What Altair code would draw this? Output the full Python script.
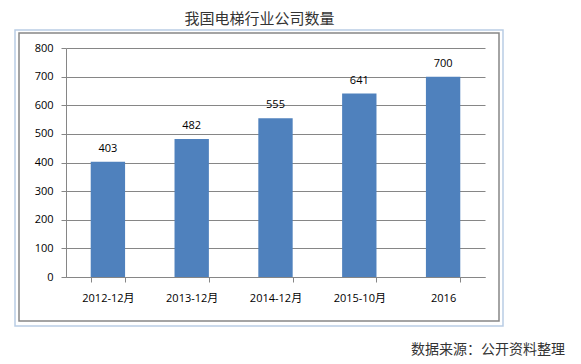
import altair as alt
import pandas as pd

categories = ["2012-12月", "2013-12月", "2014-12月", "2015-10月", "2016"]
values = [403, 482, 555, 641, 700]
y_ticks = [0, 100, 200, 300, 400, 500, 600, 700, 800]
title_text = "我国电梯行业公司数量"
source_text = "数据来源：公开资料整理"

df = pd.DataFrame({"cat": categories, "val": values})
one = pd.DataFrame({"k": [0]})

FONT = "Open Sans, Noto Sans CJK SC, sans-serif"
CJK = "Noto Sans CJK SC, sans-serif"

x_enc = alt.X(
    "cat:N",
    sort=categories,
    title=None,
    scale=alt.Scale(paddingInner=0.59, paddingOuter=0.295),
    axis=alt.Axis(
        labelAngle=0,
        tickBand="extent",
        tickSize=5,
        labelPadding=10,
        domainColor="#868686",
        tickColor="#868686",
        labelColor="#000000",
        labelFont=FONT,
        labelFontSize=11,
        labelOverlap=False,
        grid=False,
    ),
)
y_enc = alt.Y(
    "val:Q",
    title=None,
    scale=alt.Scale(domain=[0, 800], nice=False),
    axis=alt.Axis(
        values=y_ticks,
        tickSize=5,
        labelPadding=8,
        labelOverlap=False,
        domainColor="#868686",
        tickColor="#868686",
        gridColor="#868686",
        labelColor="#000000",
        labelFont=FONT,
        labelFontSize=11,
    ),
)

outer = alt.Chart(one).mark_rect(fill="transparent", stroke="#B9CDE5", strokeWidth=1.5).encode(
    x=alt.value(-51), x2=alt.value(437), y=alt.value(-18), y2=alt.value(278)
)
inner = alt.Chart(one).mark_rect(fill="transparent", stroke="#868686", strokeWidth=1.5).encode(
    x=alt.value(-47), x2=alt.value(433), y=alt.value(-15), y2=alt.value(273)
)

bars = alt.Chart(df).mark_bar(color="#4F81BD").encode(x=x_enc, y=y_enc)
labels = alt.Chart(df).mark_text(
    dy=-13, baseline="middle", font=FONT, fontSize=11, color="#000000"
).encode(x=x_enc, y=y_enc, text="val:Q")

source = alt.Chart(one).mark_text(
    align="right", baseline="middle", font=CJK, fontSize=14, color="#333333"
).encode(x=alt.value(499), y=alt.value(302), text=alt.value(source_text))

chart = alt.layer(outer, inner, bars, labels, source).properties(
    width=419,
    height=229,
    padding={"left": 58, "top": 40, "right": 88, "bottom": 86},
    autosize=alt.AutoSizeParams(type="none"),
    title=alt.TitleParams(
        text=title_text,
        font=CJK,
        fontSize=15,
        fontWeight="normal",
        color="#333333",
        anchor="middle",
        frame="group",
        dx=-16,
        offset=2,
    ),
).configure_view(stroke=None)

chart.save("out.html", embed_options={"renderer": "svg", "actions": False})
